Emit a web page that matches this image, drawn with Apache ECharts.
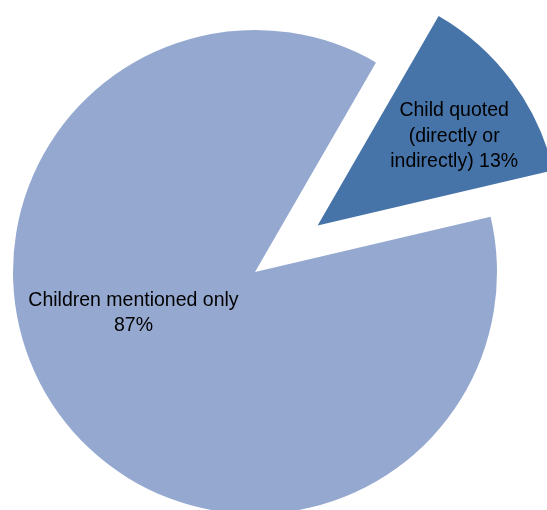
<!DOCTYPE html>
<html>
<head>
<meta charset="utf-8">
<script src="https://cdn.jsdelivr.net/npm/echarts@6/dist/echarts.min.js"></script>
<style>
  html, body { margin: 0; padding: 0; background: #ffffff; }
  #chart { width: 547px; height: 510px; }
</style>
</head>
<body>
<div id="chart"></div>
<script>
// Share of articles by how children appear
const categories = ['Child quoted\n(directly or\nindirectly) 13%', 'Children mentioned only\n87%'];
const values = [13, 87];
const colors = ['#4673A8', '#95A9D0'];
// which slice is pulled out of the pie
const exploded = [true, false];
// label nudges from the default inside position
const labelShift = [[37, -15], [-22, -33]];

const chart = echarts.init(document.getElementById('chart'), null, { renderer: 'canvas' });

chart.setOption({
  animation: false,
  series: [{
    type: 'pie',
    center: [255, 272],
    radius: 242,
    startAngle: 60,
    clockwise: true,
    selectedMode: 'multiple',
    selectedOffset: 78,
    avoidLabelOverlap: false,
    emphasis: { disabled: true },
    select: { itemStyle: { borderWidth: 0 } },
    label: {
      show: true,
      position: 'inside',
      color: '#000000',
      fontFamily: 'Liberation Sans',
      fontSize: 19.5,
      lineHeight: 25.5,
      align: 'center'
    },
    labelLine: { show: false },
    labelLayout: function (params) {
      const s = labelShift[params.dataIndex];
      return { dx: s[0], dy: s[1] };
    },
    itemStyle: { borderWidth: 0 },
    data: categories.map(function (name, i) {
      return {
        name: name,
        value: values[i],
        selected: exploded[i],
        itemStyle: { color: colors[i] },
        select: { itemStyle: { color: colors[i] } }
      };
    })
  }]
});
</script>
</body>
</html>
